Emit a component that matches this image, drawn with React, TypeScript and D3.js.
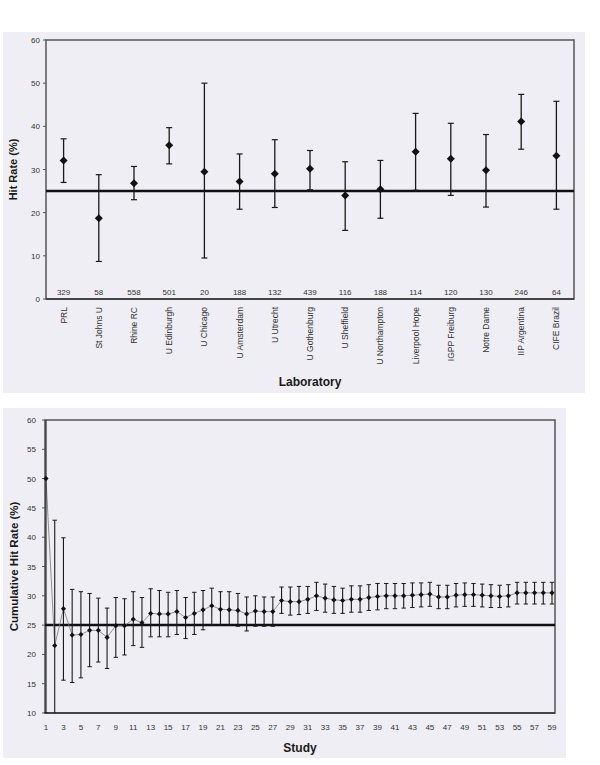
import { useMemo } from "react";
import * as d3 from "d3";

// Panel 1: hit rate by laboratory
const labs = [
  "PRL",
  "St Johns U",
  "Rhine RC",
  "U Edinburgh",
  "U Chicago",
  "U Amsterdam",
  "U Utrecht",
  "U Gothenburg",
  "U Sheffield",
  "U Northampton",
  "Liverpool Hope",
  "IGPP Freiburg",
  "Notre Dame",
  "IIP Argentina",
  "CIFE Brazil",
];
const labCounts = [329, 58, 558, 501, 20, 188, 132, 439, 116, 188, 114, 120, 130, 246, 64];
const labHit = [32.1, 18.7, 26.8, 35.6, 29.5, 27.2, 29.0, 30.2, 24.0, 25.4, 34.1, 32.5, 29.8, 41.1, 33.2];
const labUpper = [37.1, 28.8, 30.7, 39.7, 50.0, 33.6, 36.9, 34.4, 31.8, 32.1, 43.0, 40.7, 38.1, 47.4, 45.8];
const labLower = [27.0, 8.7, 23.0, 31.3, 9.5, 20.8, 21.2, 25.3, 15.9, 18.7, 25.2, 24.0, 21.3, 34.7, 20.8];
const labTicks = [0, 10, 20, 30, 40, 50, 60];

// Panel 2: cumulative hit rate by study
const cumMean = [
  50.0, 21.5, 27.8, 23.3, 23.4, 24.1, 24.1, 22.9, 24.9, 24.9,
  26.0, 25.4, 27.0, 26.9, 26.9, 27.3, 26.3, 27.0, 27.6, 28.3,
  27.7, 27.6, 27.5, 26.9, 27.4, 27.3, 27.3, 29.2, 29.0, 29.0,
  29.4, 30.0, 29.6, 29.3, 29.2, 29.4, 29.4, 29.7, 29.9, 30.0,
  30.0, 30.0, 30.1, 30.2, 30.3, 29.8, 29.8, 30.1, 30.2, 30.2,
  30.1, 30.0, 29.9, 30.0, 30.5, 30.5, 30.5, 30.5, 30.5,
];
const cumUpper = [
  90.0, 42.9, 39.9, 31.1, 30.7, 30.4, 29.6, 27.9, 29.7, 29.5,
  30.7, 29.7, 31.2, 30.9, 30.6, 30.9, 29.7, 30.6, 30.9, 31.3,
  30.7, 30.7, 30.4, 29.8, 30.0, 29.8, 29.8, 31.5, 31.5, 31.6,
  31.6, 32.3, 32.0, 31.6, 31.3, 31.7, 31.7, 31.9, 32.1, 32.1,
  32.1, 32.1, 32.2, 32.2, 32.3, 31.8, 31.8, 32.1, 32.2, 32.1,
  32.0, 31.9, 31.8, 31.9, 32.3, 32.3, 32.3, 32.3, 32.3,
];
const cumLower = [
  10.0, 0.0, 15.6, 15.2, 16.0, 17.9, 18.7, 17.6, 19.5, 19.9,
  21.5, 21.2, 23.0, 23.0, 23.0, 23.4, 22.7, 23.4, 24.2, 25.1,
  25.0, 25.0, 24.8, 24.0, 24.8, 24.8, 24.8, 27.0, 26.7, 26.8,
  27.0, 27.5, 27.2, 27.0, 27.0, 27.2, 27.2, 27.5, 27.6, 27.8,
  27.8, 27.9, 28.0, 28.1, 28.2, 27.8, 27.8, 28.1, 28.2, 28.2,
  28.1, 28.0, 28.0, 28.1, 28.6, 28.6, 28.6, 28.6, 28.6,
];
const cumTicks = [10, 15, 20, 25, 30, 35, 40, 45, 50, 55, 60];
const studyTicks = d3.range(1, 60, 2);

const CHANCE = 25;
const FONT = "Liberation Sans, Arial, sans-serif";
const BG = "#efeef4";
const FRAME = "#555";
const INK = "#1a1a1a";
const LABEL = "#333";

function diamond(cx: number, cy: number, r: number) {
  return `M${cx},${cy - r}L${cx + r},${cy}L${cx},${cy + r}L${cx - r},${cy}Z`;
}

function LabChart() {
  const left = 46, right = 574, top = 40, bottom = 299;
  const x = useMemo(
    () => d3.scaleBand<string>().domain(labs).range([left, right]).padding(0),
    []
  );
  const y = useMemo(() => d3.scaleLinear().domain([0, 60]).range([bottom, top]), []);
  const cx = (i: number) => (x(labs[i]) || 0) + x.bandwidth() / 2;

  return (
    <g>
      <rect x={3} y={32} width={582} height={361} fill={BG} />
      <rect x={left} y={top} width={right - left} height={bottom - top} fill="none" stroke={FRAME} strokeWidth={1.5} />
      <line x1={left} x2={right} y1={bottom} y2={bottom} stroke="#333" strokeWidth={1.5} />
      {labTicks.map((t) => (
        <g key={t}>
          <line x1={left - 3} x2={left} y1={y(t)} y2={y(t)} stroke={FRAME} />
          <text x={left - 6} y={y(t) + 3} fontSize={8} textAnchor="end" fill={LABEL}>
            {t}
          </text>
        </g>
      ))}
      <line x1={left} x2={right} y1={y(CHANCE)} y2={y(CHANCE)} stroke="#111" strokeWidth={2.5} />
      {labs.map((lab, i) => (
        <g key={lab}>
          <line x1={cx(i)} x2={cx(i)} y1={y(labUpper[i])} y2={y(labLower[i])} stroke={INK} strokeWidth={1.3} />
          <line x1={cx(i) - 3} x2={cx(i) + 3} y1={y(labUpper[i])} y2={y(labUpper[i])} stroke={INK} strokeWidth={1.2} />
          <line x1={cx(i) - 3} x2={cx(i) + 3} y1={y(labLower[i])} y2={y(labLower[i])} stroke={INK} strokeWidth={1.2} />
          <path d={diamond(cx(i), y(labHit[i]), 4)} fill="#111" />
          <text x={cx(i)} y={bottom - 4} fontSize={8} textAnchor="middle" fill={LABEL}>
            {labCounts[i]}
          </text>
          <text
            transform={`translate(${cx(i) + 3},${bottom + 8}) rotate(-90)`}
            fontSize={8.5}
            textAnchor="end"
            fill={LABEL}
          >
            {lab}
          </text>
        </g>
      ))}
      <text x={(left + right) / 2} y={386} fontSize={12} fontWeight="bold" textAnchor="middle" fill={INK}>
        Laboratory
      </text>
      <text
        transform={`translate(17,${(top + bottom) / 2}) rotate(-90)`}
        fontSize={11}
        fontWeight="bold"
        textAnchor="middle"
        fill={INK}
      >
        Hit Rate (%)
      </text>
    </g>
  );
}

function StudyChart() {
  const left = 45, right = 555, top = 420, bottom = 713;
  const x = useMemo(() => d3.scaleLinear().domain([1, 59]).range([46, 552]), []);
  const y = useMemo(() => d3.scaleLinear().domain([10, 60]).range([bottom, top]), []);
  const studies = cumMean.map((_, i) => i + 1);
  const path = d3
    .line<number>()
    .x((s) => x(s))
    .y((s) => y(cumMean[s - 1]))(studies);

  return (
    <g>
      <defs>
        <clipPath id="studyClip">
          <rect x={left - 2} y={top} width={right - left + 4} height={bottom - top} />
        </clipPath>
      </defs>
      <rect x={3} y={408} width={563} height={350} fill={BG} />
      <rect x={left} y={top} width={right - left} height={bottom - top} fill="none" stroke={FRAME} strokeWidth={1.5} />
      <line x1={left} x2={right} y1={bottom} y2={bottom} stroke="#333" strokeWidth={1.5} />
      {cumTicks.map((t) => (
        <g key={t}>
          <line x1={left - 3} x2={left} y1={y(t)} y2={y(t)} stroke={FRAME} />
          <text x={left - 9} y={y(t) + 3} fontSize={8} textAnchor="end" fill={LABEL}>
            {t}
          </text>
        </g>
      ))}
      {studyTicks.map((s) => (
        <text key={s} x={x(s)} y={bottom + 17} fontSize={8} textAnchor="middle" fill={LABEL}>
          {s}
        </text>
      ))}
      <line x1={left} x2={right} y1={y(CHANCE)} y2={y(CHANCE)} stroke="#111" strokeWidth={2.5} />
      <g clipPath="url(#studyClip)">
        <path d={path || ""} fill="none" stroke="#777" strokeWidth={0.8} />
        {studies.map((s, i) => (
          <g key={s}>
            <line x1={x(s)} x2={x(s)} y1={y(cumUpper[i])} y2={y(cumLower[i])} stroke={INK} strokeWidth={1.1} />
            <line x1={x(s) - 2.2} x2={x(s) + 2.2} y1={y(cumUpper[i])} y2={y(cumUpper[i])} stroke={INK} strokeWidth={1} />
            <line x1={x(s) - 2.2} x2={x(s) + 2.2} y1={y(cumLower[i])} y2={y(cumLower[i])} stroke={INK} strokeWidth={1} />
            <path d={diamond(x(s), y(cumMean[i]), 2.6)} fill="#111" />
          </g>
        ))}
      </g>
      <text x={(left + right) / 2} y={752} fontSize={12} fontWeight="bold" textAnchor="middle" fill={INK}>
        Study
      </text>
      <text
        transform={`translate(18,${(top + bottom) / 2}) rotate(-90)`}
        fontSize={11.5}
        fontWeight="bold"
        textAnchor="middle"
        fill={INK}
      >
        Cumulative Hit Rate (%)
      </text>
    </g>
  );
}

export default function App() {
  return (
    <svg
      width={600}
      height={765}
      style={{ position: "absolute", left: 0, top: 0, background: "#fff" }}
      fontFamily={FONT}
    >
      <LabChart />
      <StudyChart />
    </svg>
  );
}
